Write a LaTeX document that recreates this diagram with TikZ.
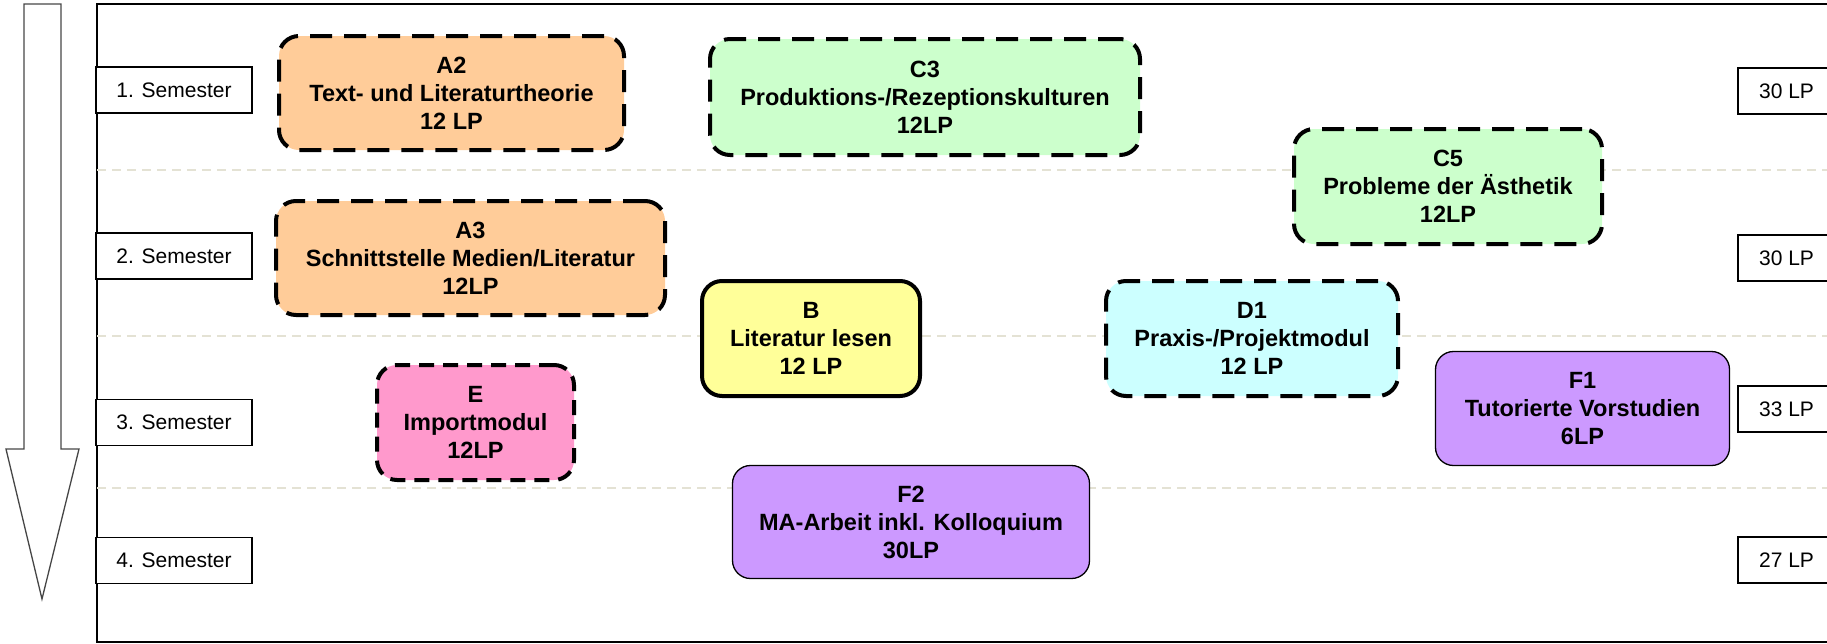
\documentclass[tikz,border=0pt]{standalone}
\usepackage{fontspec}
\setmainfont{Liberation Sans}
\definecolor{peach}{RGB}{255,204,153}
\definecolor{mint}{RGB}{204,255,204}
\definecolor{lemon}{RGB}{255,255,153}
\definecolor{icecyan}{RGB}{204,255,255}
\definecolor{rosepink}{RGB}{255,153,204}
\definecolor{lilac}{RGB}{204,153,255}
\definecolor{sepline}{RGB}{228,226,212}
\definecolor{arrowgray}{RGB}{70,70,70}
\tikzset{
  modbox/.style={rounded corners=20pt, align=center, inner sep=0pt,
    font=\bfseries\fontsize{23.5}{28}\selectfont, text=black},
  dashedmod/.style={modbox, draw=black, line width=4pt, dash pattern=on 22pt off 12pt},
  solidthick/.style={modbox, draw=black, line width=4pt},
  solidthin/.style={modbox, draw=black, line width=1.3pt, rounded corners=18pt},
  sembox/.style={draw=black, line width=1.8pt, fill=white, inner sep=0pt,
    minimum height=46pt, font=\fontsize{21}{25}\selectfont},
  seprule/.style={draw=sepline, line width=1.5pt, dash pattern=on 9pt off 6pt},
}
\begin{document}
\begin{tikzpicture}[x=1pt,y=-1pt]
\useasboundingbox (0,0) rectangle (1827,643);
% time arrow
\draw[arrowgray, line width=1.3pt, line join=miter]
  (24,4) -- (61,4) -- (61,449) -- (79,449) -- (42,599) -- (6,449) -- (24,449) -- cycle;
% frame
\draw[black, line width=2pt] (1840,4) -- (97,4) -- (97,642) -- (1840,642);
% semester separators
\coordinate (l1) at (97,170);  \coordinate (r1) at (1827,170);
\coordinate (l2) at (97,336);  \coordinate (r2) at (1827,336);
\coordinate (l3) at (97,488);  \coordinate (r3) at (1827,488);
\draw[seprule] (l1) -- (r1);
\draw[seprule] (l2) -- (r2);
\draw[seprule] (l3) -- (r3);
% semester labels
\node[sembox, minimum width=156pt] (s1) at (174,90) {1. Semester};
\node[sembox, minimum width=156pt] (s2) at (174,256) {2. Semester};
\node[sembox, minimum width=156pt] (s3) at (174,422.5) {3. Semester};
\node[sembox, minimum width=156pt] (s4) at (174,560.5) {4. Semester};
% credit points
\node[sembox, minimum width=97pt] (lp1) at (1786.5,91) {30 LP};
\node[sembox, minimum width=97pt] (lp2) at (1786.5,258) {30 LP};
\node[sembox, minimum width=97pt] (lp3) at (1786.5,409) {33 LP};
\node[sembox, minimum width=97pt] (lp4) at (1786.5,560) {27 LP};
% modules
\node[dashedmod, fill=peach, minimum width=345pt, minimum height=114pt] (A2) at (451.5,93)
  {A2\\Text- und Literaturtheorie\\12 LP};
\node[dashedmod, fill=peach, minimum width=389pt, minimum height=114pt] (A3) at (470.5,258)
  {A3\\Schnittstelle Medien/Literatur\\12LP};
\node[dashedmod, fill=mint, minimum width=430pt, minimum height=116pt] (C3) at (925,97)
  {C3\\Produktions-/Rezeptionskulturen\\12LP};
\node[solidthick, fill=lemon, minimum width=218pt, minimum height=115pt] (B) at (811,338.5)
  {B\\Literatur lesen\\12 LP};
\node[dashedmod, fill=mint, minimum width=308pt, minimum height=115pt] (C5) at (1448,186.5)
  {C5\\Probleme der Ästhetik\\12LP};
\node[dashedmod, fill=icecyan, minimum width=292pt, minimum height=115pt] (D1) at (1252,338.5)
  {D1\\Praxis-/Projektmodul\\12 LP};
\node[dashedmod, fill=rosepink, minimum width=197pt, minimum height=115pt,
      dash pattern=on 15pt off 9pt] (E) at (475.5,422.5)
  {E\\Importmodul\\12LP};
\node[solidthin, fill=lilac, minimum width=294pt, minimum height=114pt] (F1) at (1582.5,408.5)
  {F1\\Tutorierte Vorstudien\\6LP};
\node[solidthin, fill=lilac, minimum width=357pt, minimum height=113pt] (F2) at (911,522)
  {F2\\MA-Arbeit inkl. Kolloquium\\30LP};
\end{tikzpicture}
\end{document}
